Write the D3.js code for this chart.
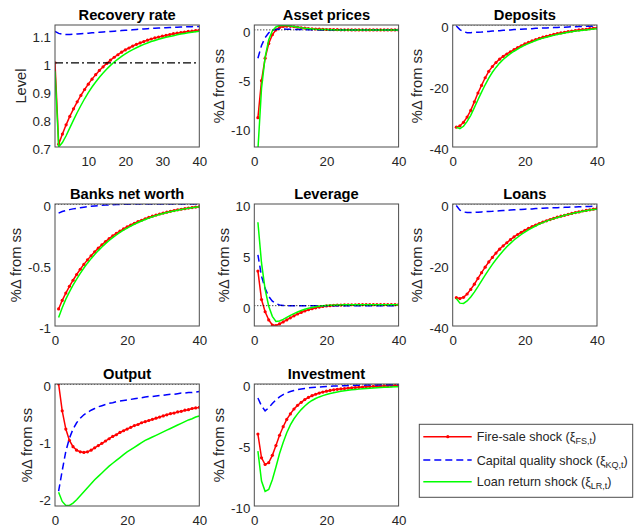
<!DOCTYPE html>
<html>
<head>
<meta charset="utf-8">
<script src="https://cdn.jsdelivr.net/npm/d3@7"></script>
<style>
	body { margin: 0; background: #fff; }
	svg { font-family: "Liberation Sans", Arial, Helvetica, sans-serif; }
</style>
</head>
<body>
<svg id="chart" width="634" height="529"></svg>
<script>
// horizon (quarters after the shock)
const periods = d3.range(1, 41);

// Recovery rate (level)
const recoveryFS = [1.0, 0.710, 0.746, 0.779, 0.809, 0.836, 0.861, 0.884, 0.905, 0.924, 0.942, 0.958, 0.973, 0.986, 0.998, 1.010, 1.020, 1.029, 1.038, 1.046, 1.053, 1.060, 1.066, 1.071, 1.076, 1.081, 1.085, 1.089, 1.092, 1.095, 1.098, 1.101, 1.104, 1.106, 1.108, 1.110, 1.112, 1.113, 1.115, 1.116];
const recoveryKQ = [1.112, 1.105, 1.102, 1.101, 1.101, 1.102, 1.103, 1.104, 1.105, 1.106, 1.107, 1.108, 1.109, 1.110, 1.111, 1.112, 1.113, 1.114, 1.115, 1.116, 1.117, 1.118, 1.119, 1.120, 1.121, 1.122, 1.123, 1.123, 1.124, 1.125, 1.125, 1.126, 1.127, 1.127, 1.128, 1.128, 1.129, 1.129, 1.130, 1.130];
const recoveryLR = [0.97, 0.700, 0.716, 0.740, 0.768, 0.796, 0.823, 0.848, 0.872, 0.894, 0.914, 0.932, 0.949, 0.964, 0.978, 0.991, 1.003, 1.013, 1.023, 1.032, 1.040, 1.047, 1.054, 1.060, 1.066, 1.071, 1.076, 1.080, 1.084, 1.088, 1.091, 1.094, 1.097, 1.100, 1.103, 1.105, 1.107, 1.109, 1.111, 1.113];

// Asset prices
const assetFS = [-9.0, -5.2, -2.9, -1.4, -0.5, 0.0, 0.25, 0.35, 0.38, 0.36, 0.32, 0.27, 0.22, 0.18, 0.14, 0.11, 0.09, 0.07, 0.05, 0.04, 0.03, 0.02, 0.02, 0.01, 0.01, 0.01, 0, 0, 0, 0, 0, 0, 0, 0, 0, 0, 0, 0, 0, 0];
const assetKQ = [-2.9, -1.6, -0.8, -0.3, -0.05, 0.05, 0.08, 0.08, 0.07, 0.06, 0.05, 0.04, 0.03, 0.02, 0.02, 0.01, 0.01, 0, 0, 0, 0, 0, 0, 0, 0, 0, 0, 0, 0, 0, 0, 0, 0, 0, 0, 0, 0, 0, 0, 0];
const assetLR = [-12.3, -6.0, -2.8, -1.0, -0.1, 0.3, 0.45, 0.48, 0.45, 0.40, 0.34, 0.28, 0.22, 0.17, 0.13, 0.10, 0.07, 0.05, 0.04, 0.03, 0.02, 0.01, 0, 0, 0, 0, 0, 0, 0, 0, 0, 0, 0, 0, 0, 0, 0, 0, 0, 0];

// Deposits
const depositsFS = [-33.5, -33.1, -31.9, -30.2, -28.0, -25.2, -22.3, -19.8, -17.3, -15.2, -13.6, -12.3, -11.2, -10.3, -9.5, -8.8, -8.1, -7.4, -6.8, -6.2, -5.7, -5.2, -4.8, -4.4, -4.0, -3.7, -3.4, -3.1, -2.8, -2.6, -2.4, -2.2, -2.0, -1.8, -1.6, -1.5, -1.4, -1.2, -1.1, -1.0];
const depositsKQ = [-0.3, -1.5, -2.2, -2.5, -2.5, -2.4, -2.35, -2.3, -2.2, -2.1, -2.0, -1.9, -1.85, -1.75, -1.7, -1.6, -1.5, -1.45, -1.4, -1.3, -1.25, -1.2, -1.1, -1.05, -1.0, -0.95, -0.9, -0.85, -0.8, -0.75, -0.7, -0.65, -0.6, -0.55, -0.5, -0.5, -0.45, -0.4, -0.4, -0.35];
const depositsLR = [-33.5, -34.0, -33.2, -31.6, -29.6, -27.1, -24.5, -22.0, -19.6, -17.4, -15.5, -13.9, -12.5, -11.3, -10.3, -9.4, -8.6, -7.9, -7.2, -6.6, -6.1, -5.6, -5.1, -4.7, -4.3, -4.0, -3.7, -3.4, -3.1, -2.9, -2.6, -2.4, -2.2, -2.0, -1.9, -1.7, -1.6, -1.5, -1.3, -1.2];

// Banks net worth
const networthFS = [-0.86, -0.79, -0.73, -0.675, -0.625, -0.578, -0.535, -0.495, -0.458, -0.424, -0.392, -0.362, -0.334, -0.308, -0.284, -0.262, -0.241, -0.222, -0.204, -0.187, -0.172, -0.158, -0.145, -0.133, -0.121, -0.110, -0.100, -0.091, -0.082, -0.074, -0.067, -0.060, -0.054, -0.048, -0.043, -0.038, -0.033, -0.029, -0.025, -0.022];
const networthKQ = [-0.075, -0.062, -0.053, -0.046, -0.040, -0.035, -0.030, -0.026, -0.022, -0.019, -0.016, -0.013, -0.011, -0.009, -0.007, -0.006, -0.005, -0.004, -0.003, -0.002, -0.002, -0.001, -0.001, -0.001, -0.001, 0, 0, 0, 0, 0, 0, 0, 0, 0, 0, 0, 0, 0, 0, 0];
const networthLR = [-0.93, -0.85, -0.78, -0.72, -0.665, -0.615, -0.568, -0.525, -0.485, -0.448, -0.414, -0.382, -0.352, -0.325, -0.299, -0.276, -0.254, -0.233, -0.214, -0.197, -0.181, -0.166, -0.152, -0.139, -0.127, -0.116, -0.105, -0.095, -0.086, -0.078, -0.070, -0.063, -0.057, -0.051, -0.045, -0.040, -0.035, -0.031, -0.027, -0.023];

// Leverage
const leverageFS = [3.4, 0.6, -0.6, -1.4, -1.9, -1.95, -1.8, -1.6, -1.4, -1.2, -1.0, -0.82, -0.66, -0.52, -0.4, -0.3, -0.21, -0.14, -0.08, -0.03, 0.0, 0.03, 0.05, 0.06, 0.07, 0.08, 0.09, 0.09, 0.1, 0.1, 0.1, 0.1, 0.1, 0.1, 0.1, 0.1, 0.1, 0.1, 0.1, 0.1];
const leverageKQ = [5.0, 2.9, 1.7, 0.9, 0.45, 0.2, 0.07, 0.02, 0, 0, 0, 0, 0, 0, 0, 0, 0, 0, 0, 0, 0, 0, 0, 0, 0, 0, 0, 0, 0, 0, 0, 0, 0, 0, 0, 0, 0, 0, 0, 0];
const leverageLR = [8.2, 4.2, 1.6, -0.05, -1.05, -1.55, -1.5, -1.35, -1.15, -0.95, -0.78, -0.62, -0.48, -0.36, -0.26, -0.18, -0.11, -0.06, -0.02, 0.01, 0.03, 0.05, 0.06, 0.07, 0.08, 0.09, 0.09, 0.1, 0.1, 0.1, 0.1, 0.1, 0.1, 0.1, 0.1, 0.1, 0.1, 0.1, 0.1, 0.1];

// Loans
const loansFS = [-30.7, -31.0, -30.6, -29.5, -28.0, -26.3, -24.4, -22.5, -20.7, -19.0, -17.5, -16.1, -14.8, -13.7, -12.7, -11.7, -10.8, -10.0, -9.3, -8.6, -8.0, -7.4, -6.9, -6.4, -5.9, -5.5, -5.1, -4.7, -4.3, -4.0, -3.7, -3.4, -3.1, -2.8, -2.6, -2.3, -2.1, -1.9, -1.7, -1.5];
const loansKQ = [-0.5, -2.0, -2.6, -2.8, -2.8, -2.75, -2.7, -2.6, -2.5, -2.45, -2.4, -2.3, -2.2, -2.15, -2.1, -2.0, -1.9, -1.85, -1.8, -1.7, -1.65, -1.6, -1.5, -1.45, -1.4, -1.35, -1.3, -1.25, -1.2, -1.15, -1.1, -1.05, -1.0, -0.95, -0.9, -0.9, -0.85, -0.8, -0.75, -0.7];
const loansLR = [-31.0, -32.5, -32.6, -31.8, -30.5, -28.9, -27.1, -25.2, -23.3, -21.5, -19.8, -18.2, -16.7, -15.3, -14.0, -12.9, -11.8, -10.9, -10.0, -9.2, -8.5, -7.8, -7.2, -6.6, -6.1, -5.6, -5.2, -4.8, -4.4, -4.1, -3.7, -3.4, -3.2, -2.9, -2.7, -2.4, -2.2, -2.0, -1.8, -1.7];

// Output
const outputFS = [0.0, -0.47, -0.79, -0.99, -1.10, -1.16, -1.19, -1.20, -1.19, -1.16, -1.12, -1.08, -1.04, -1.00, -0.96, -0.92, -0.89, -0.85, -0.82, -0.79, -0.76, -0.73, -0.71, -0.68, -0.66, -0.64, -0.62, -0.60, -0.58, -0.56, -0.54, -0.52, -0.51, -0.49, -0.48, -0.46, -0.45, -0.43, -0.42, -0.41];
const outputKQ = [-1.88, -1.52, -1.18, -0.95, -0.79, -0.68, -0.60, -0.54, -0.50, -0.46, -0.43, -0.40, -0.38, -0.36, -0.34, -0.33, -0.31, -0.30, -0.29, -0.28, -0.27, -0.26, -0.25, -0.24, -0.23, -0.22, -0.22, -0.21, -0.20, -0.20, -0.19, -0.18, -0.18, -0.17, -0.16, -0.16, -0.15, -0.15, -0.14, -0.13];
const outputLR = [-1.90, -2.06, -2.13, -2.13, -2.09, -2.03, -1.96, -1.89, -1.82, -1.75, -1.68, -1.62, -1.56, -1.50, -1.44, -1.39, -1.34, -1.29, -1.24, -1.19, -1.15, -1.11, -1.07, -1.03, -0.99, -0.96, -0.93, -0.90, -0.87, -0.84, -0.81, -0.78, -0.75, -0.72, -0.69, -0.66, -0.63, -0.61, -0.58, -0.56];

// Investment
const investFS = [-4.1, -6.05, -6.6, -6.45, -5.85, -5.05, -4.2, -3.5, -2.9, -2.45, -2.05, -1.75, -1.5, -1.28, -1.1, -0.96, -0.84, -0.74, -0.66, -0.59, -0.53, -0.48, -0.44, -0.40, -0.37, -0.34, -0.31, -0.29, -0.27, -0.25, -0.23, -0.21, -0.2, -0.18, -0.17, -0.16, -0.15, -0.14, -0.13, -0.12];
const investKQ = [-1.15, -1.8, -2.2, -1.95, -1.6, -1.3, -1.05, -0.87, -0.73, -0.62, -0.53, -0.46, -0.41, -0.36, -0.32, -0.29, -0.26, -0.24, -0.22, -0.2, -0.18, -0.17, -0.16, -0.15, -0.14, -0.13, -0.12, -0.11, -0.1, -0.1, -0.09, -0.09, -0.08, -0.08, -0.07, -0.07, -0.06, -0.06, -0.05, -0.05];
const investLR = [-5.5, -7.95, -8.8, -8.65, -7.85, -6.8, -5.7, -4.8, -4.0, -3.35, -2.85, -2.45, -2.1, -1.8, -1.55, -1.35, -1.19, -1.06, -0.95, -0.86, -0.78, -0.71, -0.65, -0.6, -0.55, -0.51, -0.48, -0.45, -0.42, -0.39, -0.37, -0.35, -0.33, -0.31, -0.29, -0.27, -0.26, -0.24, -0.23, -0.22];

const legendLabels = [
	["Fire-sale shock (", "ξ", "FS,t", ")"],
	["Capital quality shock (", "ξ", "KQ,t", ")"],
	["Loan return shock (", "ξ", "LR,t", ")"]
];

const panels = [
	{title: "Recovery rate", ylabel: "Level", y: [0.7, 1.135], yTicks: [0.7, 0.8, 0.9, 1, 1.1], x: [1, 40], xTicks: [10, 20, 30, 40], ref: 1, series: [recoveryFS, recoveryKQ, recoveryLR]},
	{title: "Asset prices", ylabel: "%\u0394 from ss", y: [-12, 0.5], yTicks: [-10, -5, 0], x: [0, 40], xTicks: [0, 20, 40], ref: 0, series: [assetFS, assetKQ, assetLR]},
	{title: "Deposits", ylabel: "%\u0394 from ss", y: [-40, 0], yTicks: [-40, -20, 0], x: [0, 40], xTicks: [0, 20, 40], ref: 0, series: [depositsFS, depositsKQ, depositsLR]},
	{title: "Banks net worth", ylabel: "%\u0394 from ss", y: [-1, 0], yTicks: [-1, -0.5, 0], x: [0, 40], xTicks: [0, 20, 40], ref: 0, series: [networthFS, networthKQ, networthLR]},
	{title: "Leverage", ylabel: "%\u0394 from ss", y: [-2, 10], yTicks: [0, 5, 10], x: [0, 40], xTicks: [0, 20, 40], ref: 0, series: [leverageFS, leverageKQ, leverageLR]},
	{title: "Loans", ylabel: "%\u0394 from ss", y: [-40, 0], yTicks: [-40, -20, 0], x: [0, 40], xTicks: [0, 20, 40], ref: 0, series: [loansFS, loansKQ, loansLR]},
	{title: "Output", ylabel: "%\u0394 from ss", y: [-2.14, 0], yTicks: [-2, -1, 0], x: [0, 40], xTicks: [0, 20, 40], ref: 0, series: [outputFS, outputKQ, outputLR]},
	{title: "Investment", ylabel: "%\u0394 from ss", y: [-10, 0], yTicks: [-10, -5, 0], x: [0, 40], xTicks: [0, 20, 40], ref: 0, series: [investFS, investKQ, investLR]}
];

// line styles for the three shocks: fire-sale, capital quality, loan return
const styles = [
	{color: "#ff0000", dash: null, marker: true},
	{color: "#0000ff", dash: "7,4", marker: false},
	{color: "#00ff00", dash: null, marker: false}
];

const colLeft = [55, 254.3, 452.7];
const rowTop = [25, 204, 384];
const boxW = 144.3;
const boxH = 122;
const textColor = "#262626";

const svg = d3.select("#chart");

panels.forEach((p, i) => {
	const left = colLeft[i % 3];
	const top = rowTop[Math.floor(i / 3)];
	const g = svg.append("g").attr("transform", `translate(${left},${top})`);

	const x = d3.scaleLinear().domain(p.x).range([0, boxW]);
	const y = d3.scaleLinear().domain(p.y).range([boxH, 0]);

	g.append("clipPath")
		.attr("id", "clip" + i)
		.append("rect")
		.attr("width", boxW)
		.attr("height", boxH);

	const plot = g.append("g").attr("clip-path", `url(#clip${i})`);

	const line = d3.line()
		.x((d, k) => x(periods[k]))
		.y(d => y(d));

	p.series.forEach((values, s) => {
		const st = styles[s];
		plot.append("path")
			.attr("d", line(values))
			.attr("fill", "none")
			.attr("stroke", st.color)
			.attr("stroke-width", 1.5)
			.attr("stroke-dasharray", st.dash);
		if (st.marker) {
			plot.selectAll(null)
				.data(values)
				.enter()
				.append("circle")
				.attr("cx", (d, k) => x(periods[k]))
				.attr("cy", d => y(d))
				.attr("r", 1.6)
				.attr("fill", st.color);
		}
	});

	// steady state reference
	plot.append("line")
		.attr("x1", 0)
		.attr("x2", boxW)
		.attr("y1", y(p.ref))
		.attr("y2", y(p.ref))
		.attr("stroke", "#000")
		.attr("stroke-width", p.ref === 1 ? 1.2 : 1)
		.attr("stroke-dasharray", p.ref === 1 ? "8,3,2,3" : "1,2");

	g.append("rect")
		.attr("width", boxW)
		.attr("height", boxH)
		.attr("fill", "none")
		.attr("stroke", "#4d4d4d")
		.attr("stroke-width", 1);

	const fmt = d => String(d);

	const yAxis = g.append("g")
		.call(d3.axisLeft(y).tickValues(p.yTicks).tickFormat(fmt).tickSize(0).tickPadding(4));
	yAxis.select(".domain").remove();
	yAxis.selectAll("text")
		.attr("fill", textColor)
		.attr("dy", "0.5em")
		.style("font-size", "13.3px");

	const xAxis = g.append("g")
		.attr("transform", `translate(0,${boxH})`)
		.call(d3.axisBottom(x).tickValues(p.xTicks).tickFormat(fmt).tickSize(0).tickPadding(10));
	xAxis.select(".domain").remove();
	xAxis.selectAll("text")
		.attr("fill", textColor)
		.style("font-size", "13.3px");

	let maxW = 0;
	yAxis.selectAll("text").each(function () {
		maxW = Math.max(maxW, this.getComputedTextLength());
	});

	g.append("text")
		.attr("transform", `translate(${-(maxW + 11)},${boxH / 2}) rotate(-90)`)
		.attr("text-anchor", "middle")
		.attr("fill", textColor)
		.style("font-size", "14.7px")
		.text(p.ylabel);

	g.append("text")
		.attr("x", boxW / 2)
		.attr("y", -5.5)
		.attr("text-anchor", "middle")
		.attr("fill", "#000")
		.style("font-size", "14.7px")
		.style("font-weight", "bold")
		.text(p.title);
});

// legend
const legend = svg.append("g").attr("transform", "translate(419.3,424.3)");
legend.append("rect")
	.attr("width", 213.4)
	.attr("height", 73)
	.attr("fill", "#fff")
	.attr("stroke", "#4d4d4d")
	.attr("stroke-width", 1);

const rowY = [12.4, 35.7, 57.4];
legendLabels.forEach((lab, s) => {
	const st = styles[s];
	const row = legend.append("g").attr("transform", `translate(0,${rowY[s]})`);
	row.append("line")
		.attr("x1", 4)
		.attr("x2", 52.4)
		.attr("stroke", st.color)
		.attr("stroke-width", 1.5)
		.attr("stroke-dasharray", st.dash);
	if (st.marker) {
		row.append("circle").attr("cx", 28.5).attr("r", 1.6).attr("fill", st.color);
	}
	const t = row.append("text")
		.attr("x", 57.4)
		.attr("y", 4.5)
		.attr("fill", textColor)
		.style("font-size", "12.6px");
	t.append("tspan").text(lab[0]);
	t.append("tspan").text(lab[1]);
	t.append("tspan").attr("dy", 3).style("font-size", "9px").text(lab[2]);
	t.append("tspan").attr("dy", -3).text(lab[3]);
});
</script>
</body>
</html>
